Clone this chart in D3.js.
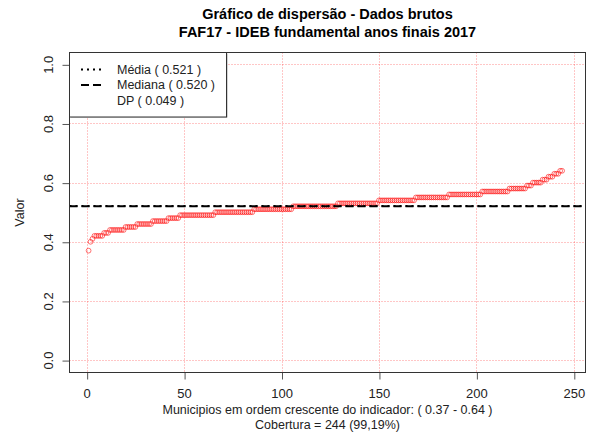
<!DOCTYPE html>
<html>
<head>
<meta charset="utf-8">
<script src="https://cdn.jsdelivr.net/npm/d3@7"></script>
<style>
  html, body { margin: 0; padding: 0; background: #fff; }
  svg text { font-family: "Liberation Sans", Arial, sans-serif; }
</style>
</head>
<body>
<svg id="chart" width="592" height="438"></svg>
<script>
// IDEB anos finais 2017 (escala 0-1): níveis observados e número de municípios em cada nível
const levels = [0.37, 0.40, 0.41, 0.42, 0.43, 0.44, 0.45, 0.46, 0.47, 0.48, 0.49, 0.50, 0.51,
                0.52, 0.53, 0.54, 0.55, 0.56, 0.57, 0.58, 0.59, 0.60, 0.61, 0.62, 0.63, 0.64];
const counts = [1, 1, 1, 5, 3, 8, 6, 8, 8, 6, 18, 20, 20,
                23, 21, 19, 17, 17, 14, 9, 3, 5, 3, 3, 3, 2];
const xTicks = [0, 50, 100, 150, 200, 250];
const yTicks = [0.0, 0.2, 0.4, 0.6, 0.8, 1.0];
const titleLines = ["Gráfico de dispersão - Dados brutos", "FAF17 - IDEB fundamental anos finais 2017"];
const coverage = "Cobertura = 244 (99,19%)";

// valores ordenados (um por município)
const values = levels.flatMap((v, k) => Array(counts[k]).fill(v));
const n = values.length;
const mean = d3.mean(values);
const median = d3.median(values);
const sd = d3.deviation(values);

const svg = d3.select("#chart");
const box = { left: 69.5, right: 585.5, top: 52.5, bottom: 372.5 };

const x = d3.scaleLinear().domain([-8.8, 256]).range([box.left, box.right]);
const y = d3.scaleLinear().domain([-0.042, 1.04]).range([box.bottom, box.top]);

const gridColor = "rgba(255,0,0,0.45)";

// grade pontilhada
svg.append("g").selectAll("line").data(xTicks).join("line")
  .attr("x1", d => Math.round(x(d)) + 0.5).attr("x2", d => Math.round(x(d)) + 0.5)
  .attr("y1", box.top).attr("y2", box.bottom)
  .attr("stroke", gridColor).attr("stroke-dasharray", "1,2");
svg.append("g").selectAll("line").data(yTicks).join("line")
  .attr("y1", d => Math.round(y(d)) + 0.5).attr("y2", d => Math.round(y(d)) + 0.5)
  .attr("x1", box.left).attr("x2", box.right)
  .attr("stroke", gridColor).attr("stroke-dasharray", "1,2");

// pontos
svg.append("g").selectAll("circle").data(values).join("circle")
  .attr("cx", (d, i) => x(i + 1))
  .attr("cy", d => y(d))
  .attr("r", 2.4)
  .attr("fill", "none")
  .attr("stroke", "rgba(255,0,0,0.55)")
  .attr("stroke-width", 1);

// média e mediana
svg.append("line")
  .attr("x1", box.left).attr("x2", box.right)
  .attr("y1", y(mean)).attr("y2", y(mean))
  .attr("stroke", "#000").attr("stroke-width", 2).attr("stroke-dasharray", "2,4");
svg.append("line")
  .attr("x1", box.left).attr("x2", box.right)
  .attr("y1", y(median)).attr("y2", y(median))
  .attr("stroke", "#000").attr("stroke-width", 2).attr("stroke-dasharray", "8,4");

// eixos
const xAxis = svg.append("g").attr("transform", `translate(0,${box.bottom})`)
  .call(d3.axisBottom(x).tickValues(xTicks).tickSize(7).tickPadding(9).tickFormat(d3.format("d")));
const yAxis = svg.append("g").attr("transform", `translate(${box.left},0)`)
  .call(d3.axisLeft(y).tickValues(yTicks).tickSize(7).tickPadding(5).tickFormat(d3.format(".1f")));
[xAxis, yAxis].forEach(g => {
  g.select(".domain").remove();
  g.selectAll(".tick line").attr("stroke", "#555");
  g.selectAll(".tick text").attr("fill", "#222").style("font-size", "13px")
    .style("font-family", "'Liberation Sans', Arial, sans-serif");
});
xAxis.selectAll(".tick line").attr("transform", "translate(0.5,0)");
yAxis.selectAll(".tick line").attr("transform", "translate(0,0.5)");
yAxis.selectAll(".tick text")
  .attr("transform", function () {
    const ty = d3.select(this.parentNode).attr("transform");
    return "rotate(-90)";
  })
  .attr("x", 0).attr("y", -17).attr("dy", "0em")
  .attr("text-anchor", "middle");

// caixa do gráfico
svg.append("rect")
  .attr("x", box.left).attr("y", box.top)
  .attr("width", box.right - box.left).attr("height", box.bottom - box.top)
  .attr("fill", "none").attr("stroke", "#333");

// legenda
const leg = svg.append("g");
leg.append("rect").attr("x", 70.5).attr("y", 53.5).attr("width", 157).attr("height", 64)
  .attr("fill", "#aaa");
leg.append("rect").attr("x", 69.5).attr("y", 52.5).attr("width", 157).attr("height", 64.5)
  .attr("fill", "#fff").attr("stroke", "#333");
const legItems = [
  { label: `Média ( ${mean.toFixed(3)} )`, dash: "2,4", yy: 69.5 },
  { label: `Mediana ( ${median.toFixed(3)} )`, dash: "8,4", yy: 85 },
  { label: `DP ( ${sd.toFixed(3)} )`, dash: null, yy: 101 }
];
legItems.forEach(it => {
  if (it.dash) {
    leg.append("line").attr("x1", 81).attr("x2", 102).attr("y1", it.yy).attr("y2", it.yy)
      .attr("stroke", "#000").attr("stroke-width", 2).attr("stroke-dasharray", it.dash);
  }
  leg.append("text").attr("x", 117).attr("y", it.yy).attr("dy", "0.35em")
    .style("font-size", "12.5px").attr("fill", "#222").text(it.label);
});

// títulos
const cx = (box.left + box.right) / 2;
svg.append("text").attr("x", cx).attr("y", 19).attr("text-anchor", "middle")
  .style("font-size", "14.5px").style("font-weight", "bold").text(titleLines[0]);
svg.append("text").attr("x", cx).attr("y", 37).attr("text-anchor", "middle")
  .style("font-size", "14.5px").style("font-weight", "bold").text(titleLines[1]);

svg.append("text").attr("x", cx).attr("y", 413.5).attr("text-anchor", "middle")
  .style("font-size", "12.5px").attr("fill", "#222")
  .text(`Municipios em ordem crescente do indicador: ( ${d3.min(values).toFixed(2)} - ${d3.max(values).toFixed(2)} )`);
svg.append("text").attr("x", cx).attr("y", 428.5).attr("text-anchor", "middle")
  .style("font-size", "12.5px").attr("fill", "#222").text(coverage);

svg.append("text")
  .attr("transform", `translate(24,${(box.top + box.bottom) / 2}) rotate(-90)`)
  .attr("text-anchor", "middle")
  .style("font-size", "12.5px").attr("fill", "#222").text("Valor");
</script>
</body>
</html>
